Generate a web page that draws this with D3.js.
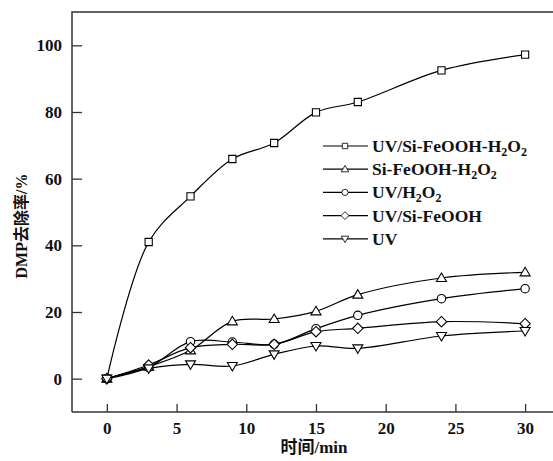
<!DOCTYPE html>
<html><head><meta charset="utf-8">
<script src="https://cdn.jsdelivr.net/npm/d3@7/dist/d3.min.js"></script>
<style>body{margin:0;background:#fff}</style>
</head><body>
<svg id="c" width="553" height="461"></svg>
<script>
const times = [0, 3, 6, 9, 12, 15, 18, 24, 30];
const uvSiFeoohH2o2 = [0, 41, 54.7, 65.9, 70.7, 79.9, 83.0, 92.5, 97.2];
const siFeoohH2o2 = [0, 3.6, 8.5, 17.2, 17.9, 20.2, 25.2, 30.2, 31.9];
const uvH2o2 = [0, 3.4, 11.1, 11.0, 10.3, 15.0, 19.0, 24.0, 27.0];
const uvSiFeooh = [0, 4.1, 9.3, 10.3, 10.3, 14.1, 15.1, 17.1, 16.5];
const uv = [0, 3.1, 4.3, 3.8, 7.3, 9.8, 9.1, 12.8, 14.3];
const xTicks = [0, 5, 10, 15, 20, 25, 30];
const yTicks = [0, 20, 40, 60, 80, 100];
const seriesNames = [
  [["UV/Si-FeOOH-H", 0], ["2", 1], ["O", 0], ["2", 1]],
  [["Si-FeOOH-H", 0], ["2", 1], ["O", 0], ["2", 1]],
  [["UV/H", 0], ["2", 1], ["O", 0], ["2", 1]],
  [["UV/Si-FeOOH", 0]],
  [["UV", 0]]
];
const seriesValues = [uvSiFeoohH2o2, siFeoohH2o2, uvH2o2, uvSiFeooh, uv];
const markers = ["square", "triangle", "circle", "diamond", "down"];

const svg = d3.select("#c");
const x = d3.scaleLinear().domain([-2.5, 32]).range([72, 553]);
const y = d3.scaleLinear().domain([-10, 110]).range([412, 12]);
const serif = '"Liberation Serif"';
const cjk = '"Liberation Serif", "Noto Sans CJK SC"';

function marker(g, type, cx, cy) {
  if (type === "circle") {
    g.append("circle").attr("cx", cx).attr("cy", cy).attr("r", 4.2).attr("fill", "#fff").attr("stroke", "#000").attr("stroke-width", 1.1);
    return;
  }
  let d;
  if (type === "square") { const h = 3.6; d = `M${cx-h},${cy-h}h${2*h}v${2*h}h${-2*h}Z`; }
  else if (type === "triangle") { d = `M${cx},${cy-5}L${cx+5},${cy+3.5}L${cx-5},${cy+3.5}Z`; }
  else if (type === "down") { d = `M${cx},${cy+5}L${cx+5},${cy-3.5}L${cx-5},${cy-3.5}Z`; }
  else if (type === "diamond") { d = `M${cx},${cy-5.2}L${cx+5.2},${cy}L${cx},${cy+5.2}L${cx-5.2},${cy}Z`; }
  g.append("path").attr("d", d).attr("fill", "#fff").attr("stroke", "#000").attr("stroke-width", 1.1);
}

// frame
svg.append("path").attr("d", `M72,412V12H560`).attr("fill", "none").attr("stroke", "#333").attr("stroke-width", 1.5);
svg.append("line").attr("x1", 72).attr("x2", 560).attr("y1", 412).attr("y2", 412).attr("stroke", "#333").attr("stroke-width", 1.5);

// axes
const xAxis = svg.append("g").attr("transform", "translate(0,412)")
  .call(d3.axisBottom(x).tickValues(xTicks).tickSizeInner(-8).tickSizeOuter(0).tickPadding(10));
const yAxis = svg.append("g").attr("transform", "translate(72,0)")
  .call(d3.axisLeft(y).tickValues(yTicks).tickSizeInner(-10).tickSizeOuter(0).tickPadding(10));
[xAxis, yAxis].forEach(a => {
  a.attr("font-family", null).attr("font-size", null);
  a.select(".domain").remove();
  a.selectAll(".tick line").attr("stroke", "#333").attr("stroke-width", 1.3);
  a.selectAll(".tick text").style("font-family", serif).style("font-weight", "bold").style("font-size", "17px").attr("fill", "#111");
});

// lines
const line = d3.line().x(d => x(d[0])).y(d => y(d[1])).curve(d3.curveCatmullRom.alpha(0.5));
seriesValues.forEach((vals) => {
  const pts = times.map((t, j) => [t, vals[j]]);
  svg.append("path").attr("d", line(pts)).attr("fill", "none").attr("stroke", "#000").attr("stroke-width", 1.2);
});
seriesValues.forEach((vals, i) => {
  const g = svg.append("g");
  times.forEach((t, j) => marker(g, markers[i], x(t), y(vals[j])));
});

// legend
const lg = svg.append("g");
seriesNames.forEach((parts, i) => {
  const yy = 146 + i * 23.2;
  lg.append("line").attr("x1", 323).attr("x2", 368).attr("y1", yy).attr("y2", yy).attr("stroke", "#000").attr("stroke-width", 1.2);
  const mg = lg.append("g").attr("transform", `translate(345,${yy}) scale(0.75) translate(-345,${-yy})`);
  marker(mg, markers[i], 345, yy);
  const t = lg.append("text").attr("x", 372).attr("y", yy + 6)
    .style("font-family", serif).style("font-weight", "bold").style("font-size", "17.5px").attr("fill", "#111");
  let sub = false;
  parts.forEach(([s, isSub]) => {
    const ts = t.append("tspan").text(s);
    if (isSub) { ts.style("font-size", "12px"); if (!sub) { ts.attr("dy", 3.5); sub = true; } }
    else if (sub) { ts.attr("dy", -3.5); sub = false; }
  });
});

// axis titles
svg.append("text").attr("x", 314).attr("y", 453).attr("text-anchor", "middle")
  .style("font-family", cjk).style("font-weight", "bold").style("font-size", "17px").attr("fill", "#111")
  .text("时间/min");
svg.append("text").attr("transform", "translate(27,226) rotate(-90)").attr("text-anchor", "middle")
  .style("font-family", cjk).style("font-weight", "bold").style("font-size", "16px").attr("fill", "#111")
  .text("DMP去除率/%");
</script>
</body></html>
